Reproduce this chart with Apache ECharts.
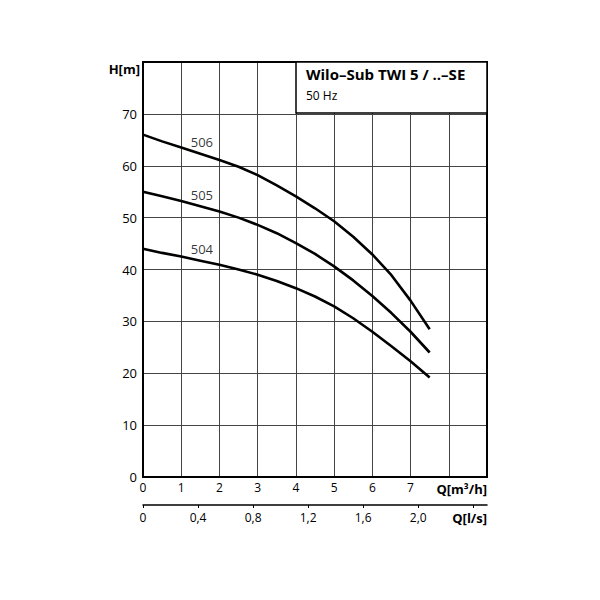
<!DOCTYPE html>
<html><head><meta charset="utf-8">
<script src="https://cdn.jsdelivr.net/npm/echarts@6/dist/echarts.min.js"></script>
<style>html,body{margin:0;padding:0;background:#fff}#c{width:600px;height:600px}</style>
</head><body><div id="c"></div>
<script>
var qTicksM3h = [0,1,2,3,4,5,6,7];
var qTicksLs = [0,0.4,0.8,1.2,1.6,2.0];
var hTicks = [0,10,20,30,40,50,60,70];
var qPoints = [0,0.5,1,1.5,2,2.5,3,3.5,4,4.5,5,5.5,6,6.5,7,7.5];
var h506 = [66.0,64.7,63.5,62.3,61.1,59.8,58.2,56.2,54.1,51.8,49.3,46.3,42.9,38.9,34.0,28.5];
var h505 = [55.0,54.1,53.2,52.2,51.2,50.0,48.6,47.0,45.1,43.0,40.6,37.9,34.9,31.6,28.0,24.0];
var h504 = [44.0,43.2,42.5,41.7,40.9,40.0,39.0,37.8,36.4,34.8,32.9,30.6,28.0,25.2,22.3,19.2];
var curveNames = ['506','505','504'];
var labelPoints = [[1.54,64.6],[1.54,54.4],[1.54,44.0]];
var titleText = 'Wilo\u2013Sub TWI 5 / ..\u2013SE';
var subText = '50 Hz';

var FONT = '"Open Sans", "DejaVu Sans", sans-serif';
var chart = echarts.init(document.getElementById('c'), null, {renderer:'svg'});
function lineSeries(h){
  return {type:'line', data:qPoints.map(function(q,i){return [q,h[i]];}), smooth:false, showSymbol:false, symbol:'none',
    lineStyle:{color:'#000', width:2.6, join:'round', cap:'butt'}, xAxisIndex:0, yAxisIndex:0, z:5, animation:false};
}
chart.setOption({
  animation:false,
  grid:[{left:143, top:62, width:344, height:415},
        {left:143, top:505, width:344, height:0}],
  xAxis:[{type:'value', gridIndex:0, min:0, max:9, interval:1,
          name:'Q[m\u00b3/h]', nameLocation:'end', nameGap:0,
          nameTextStyle:{align:'right', verticalAlign:'top', padding:[5,0,0,0], fontWeight:'bold', fontSize:13, color:'#000', fontFamily:FONT},
          axisLine:{show:true, onZero:false, lineStyle:{color:'#000', width:2}},
          axisTick:{show:false},
          splitLine:{show:true, lineStyle:{color:'#444', width:1}},
          axisLabel:{color:'#000', fontSize:12, fontFamily:FONT, margin:4, showMaxLabel:false,
            formatter:function(v){return qTicksM3h.indexOf(v)>=0 ? String(v) : '';}}},
         {type:'value', gridIndex:1, min:0, max:2.5, interval:0.4, position:'bottom',
          name:'Q[l/s]', nameLocation:'end', nameGap:0,
          nameTextStyle:{align:'right', verticalAlign:'top', padding:[6,0,0,0], fontWeight:'bold', fontSize:13, color:'#000', fontFamily:FONT},
          axisLine:{show:true, onZero:false, lineStyle:{color:'#000', width:1.5}},
          axisTick:{show:true, length:3, lineStyle:{color:'#000', width:1}},
          splitLine:{show:false},
          axisLabel:{color:'#000', fontSize:12, fontFamily:FONT, margin:6, showMaxLabel:false,
            formatter:function(v){
              var r = Math.round(v*10)/10;
              for (var i=0;i<qTicksLs.length;i++){ if (Math.abs(qTicksLs[i]-r)<1e-6) return r===0?'0':r.toFixed(1).replace('.',','); }
              return '';
            }}}],
  yAxis:[{type:'value', gridIndex:0, min:0, max:80, interval:10,
          name:'H[m]', nameLocation:'end', nameGap:-7,
          nameTextStyle:{align:'right', verticalAlign:'middle', padding:[0,3,0,0], fontWeight:'bold', fontSize:13, color:'#000', fontFamily:FONT},
          axisLine:{show:true, lineStyle:{color:'#000', width:2}},
          axisTick:{show:false},
          splitLine:{show:true, lineStyle:{color:'#444', width:1}},
          axisLabel:{color:'#000', fontSize:13, fontFamily:FONT, margin:6, showMaxLabel:false,
            formatter:function(v){return hTicks.indexOf(v)>=0 ? String(v) : '';}}},
         {type:'value', gridIndex:1, min:0, max:1, show:false}],
  graphic:[
    {type:'rect', shape:{x:143, y:62, width:344, height:415}, style:{fill:'none', stroke:'#000', lineWidth:2}, z:10},
    {type:'rect', shape:{x:296, y:62, width:191, height:51}, style:{fill:'#fff', stroke:'#000', lineWidth:1.5}, z:20},
    {type:'text', x:306, y:66, style:{text:titleText, fontFamily:FONT, fontWeight:'bold', fontSize:15, fill:'#000'}, z:21},
    {type:'text', x:306, y:89, style:{text:subText, fontFamily:FONT, fontSize:12, fill:'#000'}, z:21}
  ],
  series:[lineSeries(h506), lineSeries(h505), lineSeries(h504),
    {type:'scatter', xAxisIndex:0, yAxisIndex:0, symbolSize:0, z:6,
     data:labelPoints.map(function(p,i){return {value:p, name:curveNames[i]};}),
     label:{show:true, position:'inside', formatter:'{b}', color:'#000', fontSize:13, fontFamily:FONT}}]
});
</script></body></html>
